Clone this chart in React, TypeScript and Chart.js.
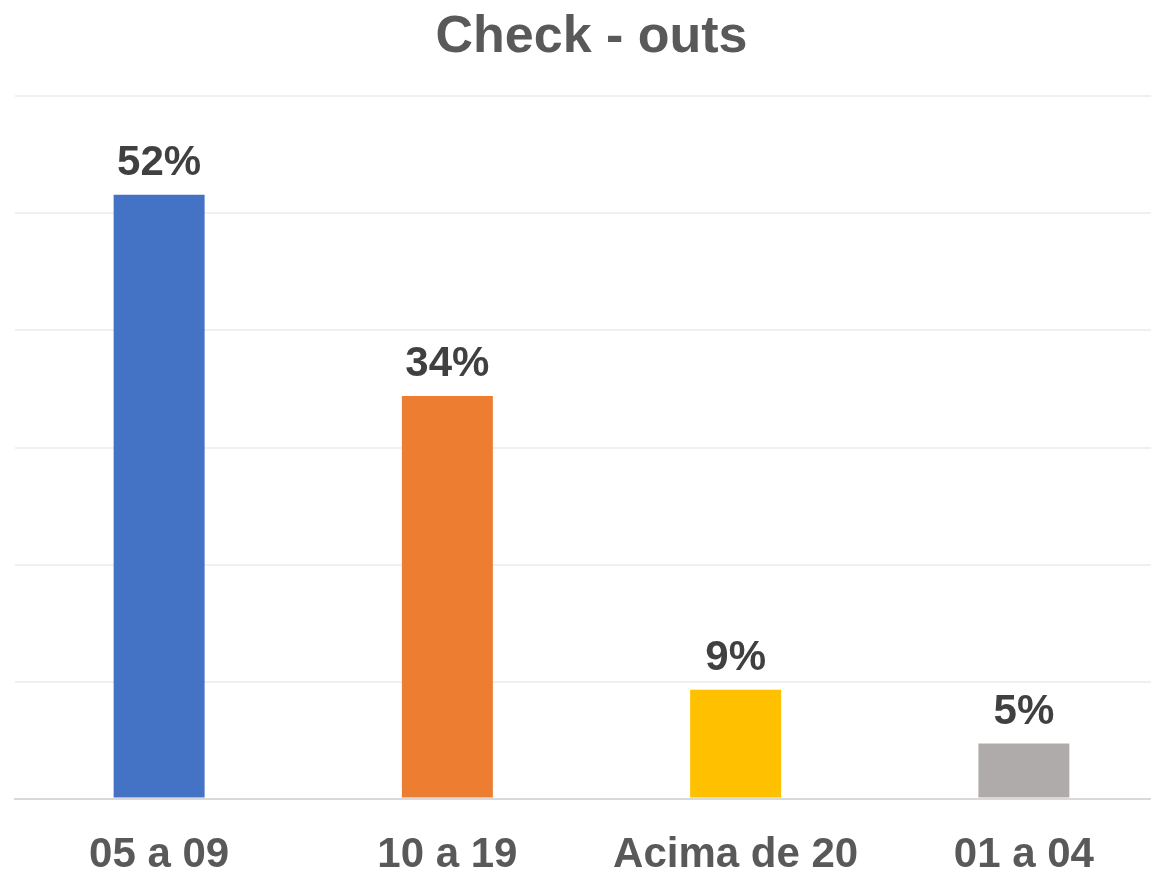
import React, { useEffect, useRef } from "react";
import { Chart, registerables } from "chart.js";

Chart.register(...registerables);

const categories = ["05 a 09", "10 a 19", "Acima de 20", "01 a 04"];
const values = [51.6, 34.4, 9.3, 4.7];
const valueLabels = ["52%", "34%", "9%", "5%"];
const barColors = ["#4472C4", "#ED7D31", "#FFC000", "#AFABAB"];
const yMax = 60;
const yStep = 10;

const FONT = "'Liberation Sans', Arial, sans-serif";
const CW = 1183;
const CH = 905;

const dataLabelPlugin = {
  id: "dataLabels",
  afterDatasetsDraw(chart: any) {
    const ctx = chart.ctx;
    const meta = chart.getDatasetMeta(0);
    ctx.save();
    ctx.font = `bold 42px ${FONT}`;
    ctx.fillStyle = "#404040";
    ctx.textAlign = "center";
    ctx.textBaseline = "alphabetic";
    meta.data.forEach((bar: any, i: number) => {
      ctx.fillText(valueLabels[i], bar.x, bar.y - 20);
    });
    ctx.restore();
  },
};

export default function App() {
  const ref = useRef<HTMLCanvasElement>(null);
  useEffect(() => {
    if (!ref.current) return;
    const chart = new Chart(ref.current, {
      type: "bar",
      data: {
        labels: categories,
        datasets: [
          {
            data: values,
            backgroundColor: barColors,
            borderWidth: 0,
            categoryPercentage: 1,
            barPercentage: 0.3156,
          },
        ],
      },
      options: {
        animation: false,
        responsive: false,
        devicePixelRatio: 1,
        layout: { padding: { top: 6, left: 15, right: 15, bottom: 0 } },
        plugins: {
          legend: { display: false },
          tooltip: { enabled: false },
          title: {
            display: true,
            text: "Check - outs",
            color: "#595959",
            font: { family: FONT, size: 52, weight: "bold" },
            padding: { top: 0, bottom: 28 },
          },
        },
        scales: {
          x: {
            grid: { display: false },
            border: { display: true, color: "#D9D9D9", width: 2 },
            ticks: {
              color: "#595959",
              font: { family: FONT, size: 42, weight: "bold" },
              padding: 24,
              maxRotation: 0,
              autoSkip: false,
            },
          },
          y: {
            min: 0,
            max: yMax,
            ticks: { display: false, stepSize: yStep },
            border: { display: false },
            grid: {
              drawTicks: false,
              color: (c: any) => (c.tick && c.tick.value === 0 ? "#D9D9D9" : "#F0F0F0"),
              lineWidth: 2,
            },
            afterFit: (s: any) => {
              s.width = 0;
            },
          },
        },
      },
      plugins: [dataLabelPlugin],
    } as any);
    return () => chart.destroy();
  }, []);

  return (
    <div
      style={{
        position: "fixed",
        left: 0,
        top: 0,
        width: 1151,
        height: 869,
        overflow: "hidden",
        background: "#ffffff",
      }}
    >
      <canvas ref={ref} width={CW} height={CH} style={{ width: CW, height: CH, display: "block" }} />
    </div>
  );
}
